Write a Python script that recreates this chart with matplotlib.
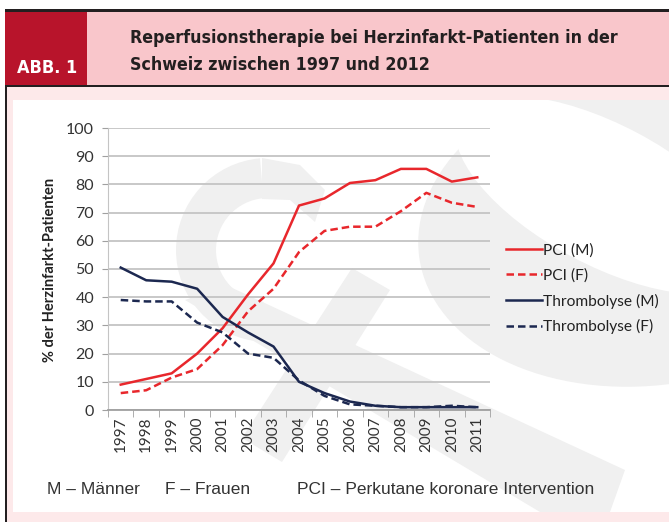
import numpy as np
import matplotlib
matplotlib.use("Agg")
import matplotlib.pyplot as plt
from matplotlib.patches import Rectangle, Polygon, Wedge, Ellipse
from matplotlib.lines import Line2D

# data
years = ["1997", "1998", "1999", "2000", "2001", "2002", "2003", "2004",
         "2005", "2006", "2007", "2008", "2009", "2010", "2011"]
pci_m = [9, 11, 13, 20, 29, 41, 52, 72.5, 75, 80.5, 81.5, 85.5, 85.5, 81, 82.5]
pci_f = [6, 7, 11.5, 14.5, 23, 35, 43, 56, 63.5, 65, 65, 70.5, 77, 73.5, 72]
thromb_m = [50.5, 46, 45.5, 43, 33, 27.5, 22.5, 10, 6, 3, 1.5, 1, 1, 1, 1]
thromb_f = [39, 38.5, 38.5, 31, 27.5, 20, 18.5, 10.5, 5, 2, 1.5, 1, 1, 1.5, 1]
series_names = ["PCI (M)", "PCI (F)", "Thrombolyse (M)", "Thrombolyse (F)"]

title_lines = ["Reperfusionstherapie bei Herzinfarkt-Patienten in der",
               "Schweiz zwischen 1997 und 2012"]
footer = ["M \u2013 M\u00e4nner", "F \u2013 Frauen",
          "PCI \u2013 Perkutane koronare Intervention"]

W, H = 669, 522
RED = "#e8272c"
NAVY = "#1c2850"
WM = "#f0f0f0"

fig = plt.figure(figsize=(W / 100, H / 100), dpi=100)

# background axes in pixel coords (top-left origin)
bg = fig.add_axes([0, 0, 1, 1], zorder=0)
bg.set_xlim(0, W)
bg.set_ylim(H, 0)
bg.axis("off")


def box(x0, y0, x1, y1, c, z=1):
    bg.add_patch(Rectangle((x0, y0), x1 - x0, y1 - y0, color=c, zorder=z, lw=0))


box(0, 0, W, H, "white", 0)
box(5, 86, W, H, "#fde9ea")
box(13, 100, W, 512, "white")

# watermark (rough "&" shape) clipped to the white panel
clip = Rectangle((13, 100), W - 13, 412, transform=bg.transData)
marks = [
    Ellipse((652, 225), 470, 320, angle=-8, zorder=2),
    Wedge((268, 250), 92, 95, 265, width=40, zorder=2),
    Polygon([[262, 158], [300, 165], [325, 190], [315, 222], [290, 200],
             [262, 199]], zorder=2),
    Polygon([[185, 300], [228, 286], [625, 470], [610, 512], [540, 512]], zorder=2),
    Polygon([[352, 268], [390, 290], [282, 462], [242, 438]], zorder=2),
    Ellipse((605, 195), 330, 140, angle=28, zorder=3),
]
for i, p in enumerate(marks):
    p.set_facecolor("white" if i == len(marks) - 1 else WM)
    p.set_linewidth(0)
    bg.add_patch(p)
    p.set_clip_path(clip)

# header
box(5, 9, W, 12, "#231f20", 4)
box(5, 12, W, 85, "#f9c6cb", 4)
box(5, 12, 87, 85, "#b8142b", 5)
box(5, 85, W, 87, "#231f20", 5)
box(5, 85, 7, H, "#231f20", 5)

hkw = dict(fontweight="bold", family="DejaVu Sans", fontstretch="condensed",
           va="center")
bg.text(47, 68, "ABB. 1", color="white", fontsize=13, ha="center", zorder=6, **hkw)
bg.text(130, 38, title_lines[0], color="#231f20", fontsize=12.8, ha="left",
        zorder=6, **hkw)
bg.text(130, 65, title_lines[1], color="#231f20", fontsize=12.8, ha="left",
        zorder=6, **hkw)

# chart
ax = fig.add_axes([108 / W, 1 - 410 / H, 382 / W, 282 / H], zorder=2)
ax.patch.set_alpha(0)

x = np.arange(len(years))
ax.plot(x, pci_m, color=RED, lw=1.8, label=series_names[0])
ax.plot(x, pci_f, color=RED, lw=1.8, ls=(0, (3, 1.6)), label=series_names[1])
ax.plot(x, thromb_m, color=NAVY, lw=1.8, label=series_names[2])
ax.plot(x, thromb_f, color=NAVY, lw=1.8, ls=(0, (3, 1.6)), label=series_names[3])

ax.set_xlim(-0.5, len(years) - 0.5)
ax.set_ylim(0, 100)
ax.set_yticks(np.arange(0, 101, 10))
ax.yaxis.grid(True, color="#c4c4c4", lw=1.3)
ax.set_axisbelow(True)
for s in ["top", "right"]:
    ax.spines[s].set_visible(False)
ax.spines["left"].set_color("#c4c4c4")
ax.spines["bottom"].set_color("#a0a0a0")
ax.spines["bottom"].set_linewidth(1.3)

tfont = ["Lato", "DejaVu Sans"]
ax.set_xticks(x)
ax.set_xticklabels(years, rotation=90, family=tfont, fontsize=11, color="#333333")
ax.set_xticks(np.arange(-0.5, len(years), 1), minor=True)
ax.tick_params(axis="x", which="major", length=0, pad=5)
ax.tick_params(axis="x", which="minor", length=5, color="#a0a0a0")
ax.tick_params(axis="y", length=4, color="#a0a0a0", pad=6)
for t in ax.get_yticklabels():
    t.set_family(tfont)
    t.set_fontsize(11.5)
    t.set_color("#333333")

fig.text(50 / W, 1 - 270 / H, "% der Herzinfarkt-Patienten", rotation=90,
         fontsize=10.5, fontweight="bold", family=tfont, color="#222222",
         ha="center", va="center")

handles = [Line2D([], [], color=RED, lw=1.8),
           Line2D([], [], color=RED, lw=1.8, ls=(0, (3, 1.6))),
           Line2D([], [], color=NAVY, lw=1.8),
           Line2D([], [], color=NAVY, lw=1.8, ls=(0, (3, 1.6)))]
leg = fig.legend(handles, series_names, loc="upper left",
                 bbox_to_anchor=(492 / W, 1 - 229 / H), frameon=False,
                 prop={"family": tfont, "size": 11.2}, handlelength=2.3,
                 handletextpad=0.1, labelspacing=0.7)
for t in leg.get_texts():
    t.set_color("#222222")

ffont = ["Liberation Sans", "DejaVu Sans"]
for xx, s in zip([47, 165, 297], footer):
    fig.text(xx / W, 1 - 490 / H, s, fontsize=12.5, family=ffont, color="#333333",
             ha="left", va="center")

fig.savefig("out.png", dpi=100)
